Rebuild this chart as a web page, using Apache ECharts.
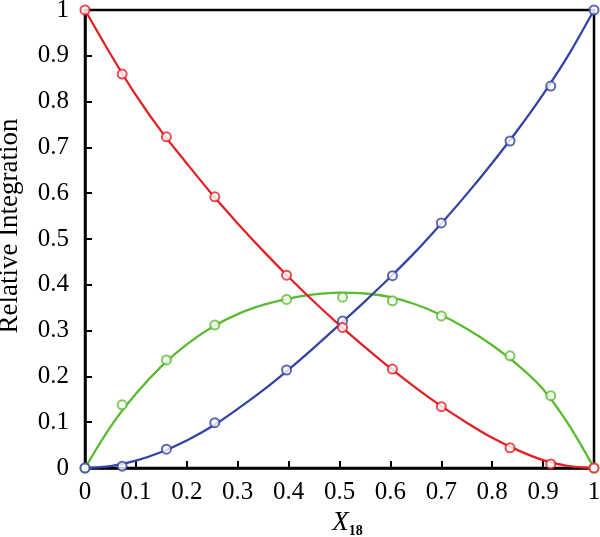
<!DOCTYPE html>
<html>
<head>
<meta charset="utf-8">
<script src="https://cdn.jsdelivr.net/npm/echarts@6/dist/echarts.min.js"></script>
<style>
  html, body { margin: 0; padding: 0; background: #fff; }
  #chart { width: 600px; height: 537px; }
</style>
</head>
<body>
<div id="chart"></div>
<script>
// measured points
var xPts = [0, 0.073, 0.16, 0.255, 0.396, 0.506, 0.604, 0.70, 0.835, 0.915, 1];
var redPts = [1, 0.860, 0.723, 0.592, 0.421, 0.307, 0.216, 0.134, 0.044, 0.009, 0];
var bluePts = [0, 0.004, 0.041, 0.099, 0.214, 0.321, 0.420, 0.535, 0.714, 0.834, 1];
var greenPts = [0, 0.138, 0.236, 0.312, 0.368, 0.373, 0.365, 0.332, 0.245, 0.158, 0];

// fitted curves
var xFit = [0, 0.05, 0.1, 0.15, 0.2, 0.25, 0.3, 0.35, 0.4, 0.45, 0.5, 0.55, 0.6, 0.65, 0.7, 0.75, 0.8, 0.85, 0.9, 0.95, 1];
var redFit = [1, 0.904, 0.814, 0.735, 0.665, 0.597, 0.534, 0.474, 0.417, 0.363, 0.312, 0.264, 0.218, 0.175, 0.135, 0.099, 0.066, 0.039, 0.017, 0.004, 0];
var blueFit = [0, 0.004, 0.016, 0.035, 0.06, 0.091, 0.129, 0.170, 0.215, 0.263, 0.313, 0.364, 0.417, 0.473, 0.534, 0.598, 0.666, 0.738, 0.816, 0.902, 1];
var greenFit = [0, 0.09, 0.162, 0.222, 0.27, 0.308, 0.336, 0.356, 0.37, 0.379, 0.383, 0.381, 0.373, 0.357, 0.334, 0.304, 0.268, 0.225, 0.172, 0.095, 0];

var RED = '#e51f26', BLUE = '#3444a3', GREEN = '#5bba31';
var FONT = 'Liberation Serif';

function pairs(xs, ys) {
    return xs.map(function (x, i) { return [x, ys[i]]; });
}

function fitLine(name, ys, color) {
    return {
        name: name, type: 'line', data: pairs(xFit, ys), smooth: 0.3,
        showSymbol: false, lineStyle: { color: color, width: 2.3 }, z: 2
    };
}

function dots(name, ys, color) {
    return {
        name: name, type: 'scatter', data: pairs(xPts, ys),
        symbol: 'emptyCircle', symbolSize: 9,
        itemStyle: { color: color, borderColor: color, borderWidth: 2.2 }, z: 3
    };
}

var chart = echarts.init(document.getElementById('chart'));
chart.setOption({
    animation: false,
    backgroundColor: '#fff',
    grid: {
        left: 85, right: 6, top: 10, bottom: 69,
        outerBoundsMode: 'none', containLabel: false,
        show: true, borderColor: '#000', borderWidth: 2.5, backgroundColor: 'transparent'
    },
    xAxis: {
        type: 'value', min: 0, max: 1, interval: 0.1,
        name: '{i|X}{s|18}', nameLocation: 'middle', nameGap: 38,
        nameTextStyle: {
            padding: [0, 0, 0, 16],
            rich: {
                i: { fontFamily: FONT, fontStyle: 'italic', fontSize: 27, color: '#000' },
                s: { fontFamily: FONT, fontWeight: 'bold', fontSize: 14, color: '#000', padding: [16, 0, 0, 0] }
            }
        },
        axisLine: { lineStyle: { color: '#000', width: 2.5 } },
        axisTick: { inside: true, length: 7, lineStyle: { color: '#000', width: 2 } },
        axisLabel: { margin: 12, fontFamily: FONT, fontSize: 25, color: '#000' },
        splitLine: { show: false }
    },
    yAxis: {
        type: 'value', min: 0, max: 1, interval: 0.1,
        name: 'Relative Integration', nameLocation: 'middle', nameGap: 62,
        nameTextStyle: { fontFamily: FONT, fontSize: 27, color: '#000', padding: [0, 0, 0, 26] },
        axisLine: { lineStyle: { color: '#000', width: 2.5 } },
        axisTick: { inside: true, length: 7, lineStyle: { color: '#000', width: 2 } },
        axisLabel: { margin: 16, fontFamily: FONT, fontSize: 25, color: '#000' },
        splitLine: { show: false }
    },
    series: [
        fitLine('green fit', greenFit, GREEN),
        fitLine('blue fit', blueFit, BLUE),
        fitLine('red fit', redFit, RED),
        dots('green', greenPts, GREEN),
        dots('blue', bluePts, BLUE),
        dots('red', redPts, RED)
    ]
});
</script>
</body>
</html>
